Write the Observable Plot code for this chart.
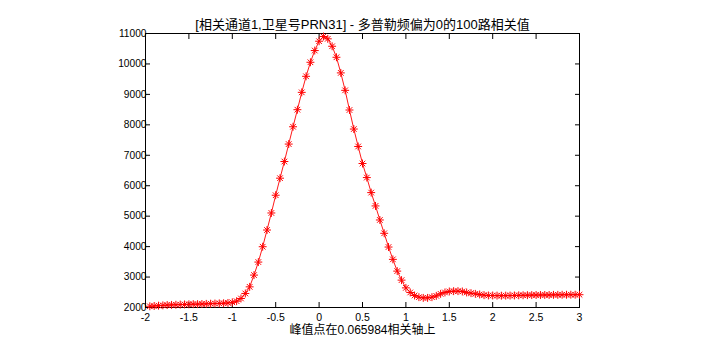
<!DOCTYPE html>
<html><head><meta charset="utf-8">
<script src="https://cdn.jsdelivr.net/npm/d3@7"></script>
<script src="https://cdn.jsdelivr.net/npm/@observablehq/plot@0.6"></script>
<style>
html,body{margin:0;padding:0;background:#fff;}
</style>
</head><body><div id="chart"></div>
<script>
const titleText = "[相关通道1,卫星号PRN31] - 多普勒频偏为0的100路相关值";
const xLabelText = "峰值点在0.065984相关轴上";
const xTicks = [-2, -1.5, -1, -0.5, 0, 0.5, 1, 1.5, 2, 2.5, 3];
const yTicks = [2000, 3000, 4000, 5000, 6000, 7000, 8000, 9000, 10000, 11000];
const xValues = [
  -1.95,-1.9,-1.85,-1.8,-1.75,-1.7,-1.65,-1.6,-1.55,-1.5,
  -1.45,-1.4,-1.35,-1.3,-1.25,-1.2,-1.15,-1.1,-1.05,-1.0,
  -0.95,-0.9,-0.85,-0.8,-0.75,-0.7,-0.65,-0.6,-0.55,-0.5,
  -0.45,-0.4,-0.35,-0.3,-0.25,-0.2,-0.15,-0.1,-0.05,0,
  0.05,0.1,0.15,0.2,0.25,0.3,0.35,0.4,0.45,0.5,
  0.55,0.6,0.65,0.7,0.75,0.8,0.85,0.9,0.95,1.0,
  1.05,1.1,1.15,1.2,1.25,1.3,1.35,1.4,1.45,1.5,
  1.55,1.6,1.65,1.7,1.75,1.8,1.85,1.9,1.95,2.0,
  2.05,2.1,2.15,2.2,2.25,2.3,2.35,2.4,2.45,2.5,
  2.55,2.6,2.65,2.7,2.75,2.8,2.85,2.9,2.95,3.0
];
const corrValues = [
  2040,2050,2060,2070,2080,2085,2090,2095,2100,2105,
  2110,2110,2115,2120,2125,2130,2135,2140,2150,2170,
  2207,2296,2461,2678,3064,3492,3996,4545,5105,5688,
  6248,6795,7368,7937,8497,9067,9594,10055,10440,10746,
  10901,10825,10581,10219,9706,9133,8487,7862,7289,6729,
  6268,5774,5336,4875,4437,3986,3581,3195,2899,2645,
  2494,2395,2339,2316,2316,2339,2382,2448,2494,2527,
  2537,2537,2527,2494,2471,2448,2428,2405,2395,2395,
  2390,2388,2390,2392,2395,2400,2402,2405,2408,2410,
  2410,2412,2412,2415,2415,2418,2418,2420,2420,2420
];
const data = xValues.map((x, i) => ({x, y: corrValues[i]}));

// MATLAB-style '*' marker: plus + cross (8 rays)
const star8 = {
  draw(ctx, size) {
    const r = Math.sqrt(size) * 0.62;
    const d = r * 0.7071;
    ctx.moveTo(-r, 0); ctx.lineTo(r, 0);
    ctx.moveTo(0, -r); ctx.lineTo(0, r);
    ctx.moveTo(-d, -d); ctx.lineTo(d, d);
    ctx.moveTo(-d, d); ctx.lineTo(d, -d);
  }
};

const font = "'Liberation Sans', Arial, 'Noto Sans CJK SC', sans-serif";
const chart = Plot.plot({
  width: 704,
  height: 352,
  marginLeft: 145,
  marginRight: 125,
  marginTop: 33,
  marginBottom: 45,
  style: {fontFamily: font, fontSize: "10px", color: "#000", background: "#fff"},
  x: {domain: [-2, 3], label: null},
  y: {domain: [2000, 11000], label: null},
  marks: [
    Plot.frame({stroke: "#000", strokeWidth: 1}),
    Plot.axisX({anchor: "bottom", ticks: xTicks, tickSize: -5, tickPadding: 11, tickFormat: d => String(d), fontSize: 10.5, label: null}),
    Plot.axisX({anchor: "top", ticks: xTicks, tickSize: -5, tickFormat: () => "", label: null}),
    Plot.axisY({anchor: "left", ticks: yTicks, tickSize: -5, tickPadding: 4, tickFormat: d => String(d), fontSize: 10.2, label: null}),
    Plot.axisY({anchor: "right", ticks: yTicks, tickSize: -5, tickFormat: () => "", label: null}),
    Plot.line(data, {x: "x", y: "y", stroke: "#ff0000", strokeWidth: 0.9}),
    Plot.dot(data, {x: "x", y: "y", symbol: star8, r: 3.6, stroke: "#ff0000", strokeWidth: 1, fill: "none"}),
    Plot.text([titleText], {frameAnchor: "top", dy: -14, text: d => d, fontSize: 13, fill: "#000"}),
    Plot.text([xLabelText], {frameAnchor: "bottom", dy: 26, text: d => d, fontSize: 12, fill: "#000"})
  ]
});
document.getElementById("chart").appendChild(chart);
</script>
</body></html>
